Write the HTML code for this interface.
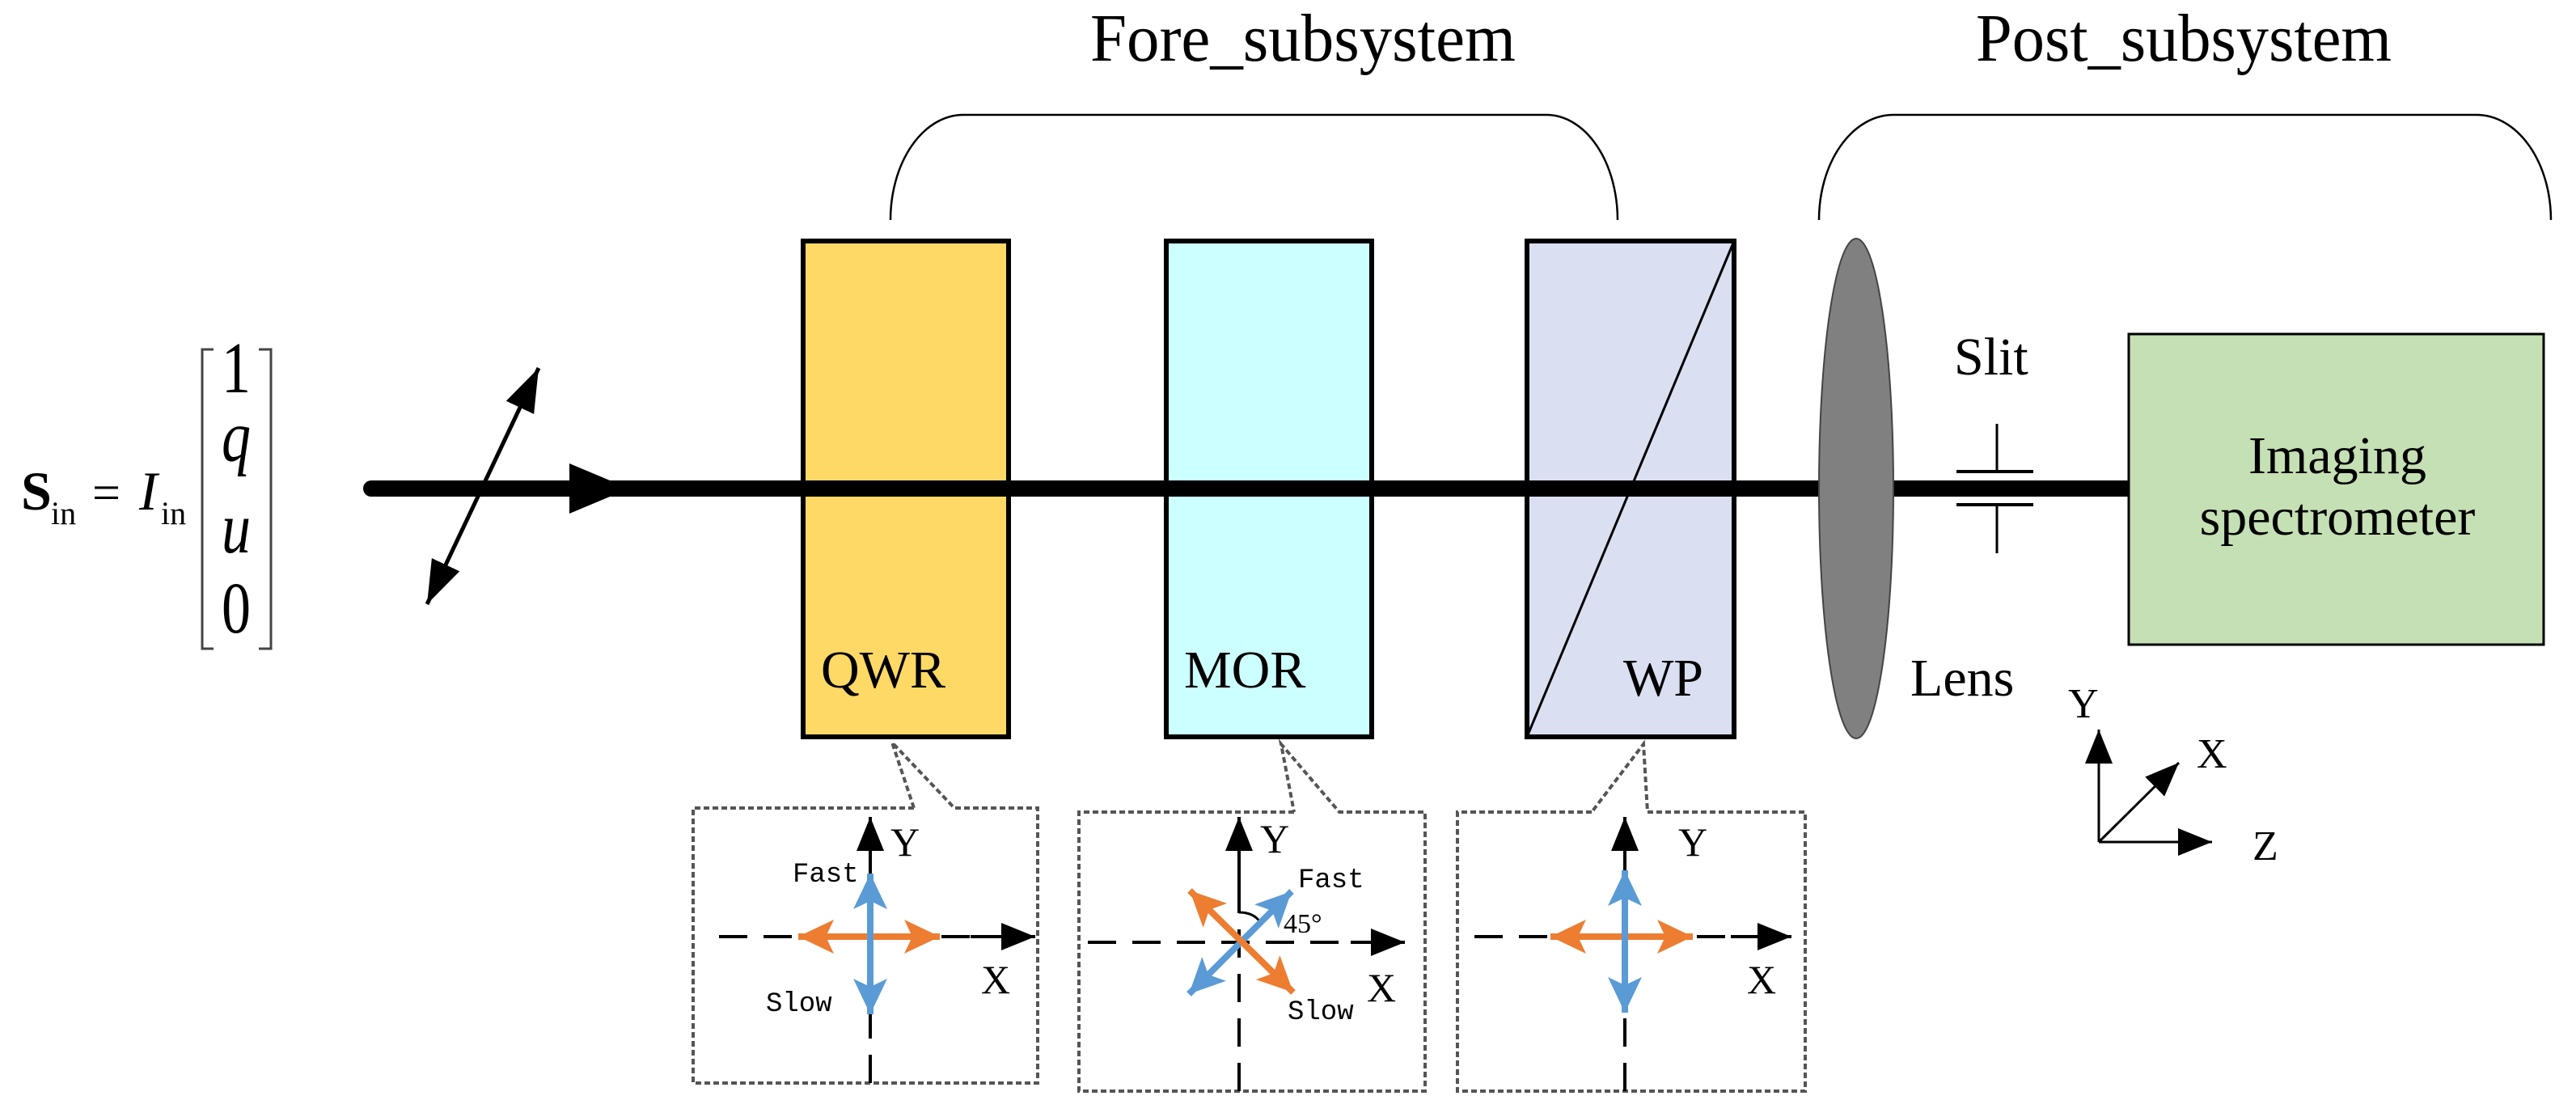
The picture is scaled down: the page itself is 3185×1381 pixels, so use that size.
<!DOCTYPE html>
<html><head><meta charset="utf-8"><style>
html,body{margin:0;padding:0;background:#fff;}
svg{display:block;font-family:"Liberation Serif","Times New Roman",serif;}
svg text{font-family:"Liberation Serif","Times New Roman",serif;fill:#000;}
svg text.mono{font-family:"Liberation Mono","DejaVu Sans Mono",monospace;}
</style></head><body>
<svg width="3185" height="1381" viewBox="0 0 3185 1381" xmlns="http://www.w3.org/2000/svg" font-family="Liberation Serif, serif">
<defs>
<marker id="bk" markerUnits="userSpaceOnUse" markerWidth="60" markerHeight="44" refX="54" refY="19" orient="auto-start-reverse"><path d="M0,0 L54,19 L0,38 Z" fill="#000"/></marker>
<marker id="bks" markerUnits="userSpaceOnUse" markerWidth="50" markerHeight="40" refX="42" refY="17" orient="auto-start-reverse"><path d="M0,0 L42,17 L0,34 Z" fill="#000"/></marker>
<marker id="or" markerUnits="userSpaceOnUse" markerWidth="50" markerHeight="46" refX="44" refY="21" orient="auto-start-reverse"><path d="M0,0 L44,21 L0,42 L10,21 Z" fill="#ed7d31"/></marker>
<marker id="bl" markerUnits="userSpaceOnUse" markerWidth="50" markerHeight="46" refX="44" refY="21" orient="auto-start-reverse"><path d="M0,0 L44,21 L0,42 L10,21 Z" fill="#5b9bd5"/></marker>
</defs>

<g font-family="Liberation Serif, serif">
<text x="1348" y="75" font-size="84" textLength="526" lengthAdjust="spacingAndGlyphs">Fore_subsystem</text>
<text x="2443" y="75" font-size="84" textLength="514" lengthAdjust="spacingAndGlyphs">Post_subsystem</text>
</g>

<path d="M1101,272 A90,130 0 0 1 1191,142 L1912,142 A88,130 0 0 1 2000,272" fill="none" stroke="#000" stroke-width="2.5"/>
<path d="M2249,272 A92,130 0 0 1 2341,142 L3062,142 A92,130 0 0 1 3154,272" fill="none" stroke="#000" stroke-width="2.5"/>

<g font-family="Liberation Serif, serif">
<text x="26" y="630" font-size="68" font-weight="bold">S</text>
<text x="63" y="648" font-size="40">in</text>
<text x="114" y="630" font-size="62">=</text>
<text x="172" y="630" font-size="68" font-style="italic">I</text>
<text x="199" y="648" font-size="40">in</text>
<text x="292" y="485" font-size="72" text-anchor="middle" transform="translate(292,485) scale(1,1.25) translate(-292,-485)">1</text>
<text x="292" y="570" font-size="72" font-style="italic" text-anchor="middle" transform="translate(292,570) scale(1,1.25) translate(-292,-570)">q</text>
<text x="292" y="683" font-size="72" font-style="italic" text-anchor="middle" transform="translate(292,683) scale(1,1.25) translate(-292,-683)">u</text>
<text x="292" y="782" font-size="72" text-anchor="middle" transform="translate(292,782) scale(1,1.25) translate(-292,-782)">0</text>
</g>
<path d="M264,432 L250,432 L250,802 L264,802" fill="none" stroke="#444" stroke-width="3"/>
<path d="M320,432 L335,432 L335,802 L320,802" fill="none" stroke="#444" stroke-width="3"/>

<rect x="993" y="298" width="254" height="613" fill="#fed966" stroke="#000" stroke-width="6"/>
<rect x="1442" y="298" width="254" height="613" fill="#ccffff" stroke="#000" stroke-width="6"/>
<rect x="1888" y="298" width="256" height="613" fill="#dae0f2" stroke="#000" stroke-width="6"/>
<line x1="1888" y1="911" x2="2144" y2="298" stroke="#000" stroke-width="3"/>

<line x1="459" y1="604" x2="2632" y2="604" stroke="#000" stroke-width="20" stroke-linecap="round"/>
<path d="M704,573 L778,604 L704,635 Z" fill="#000"/>

<line x1="528" y1="747" x2="666" y2="455" stroke="#000" stroke-width="5" marker-start="url(#bk)" marker-end="url(#bk)"/>

<ellipse cx="2295" cy="604" rx="46" ry="309" fill="#808080" stroke="#444" stroke-width="2"/>

<line x1="2469" y1="524" x2="2469" y2="583" stroke="#000" stroke-width="3"/>
<line x1="2469" y1="624" x2="2469" y2="684" stroke="#000" stroke-width="3"/>
<line x1="2419" y1="583" x2="2514" y2="583" stroke="#000" stroke-width="4"/>
<line x1="2419" y1="624" x2="2514" y2="624" stroke="#000" stroke-width="4"/>

<rect x="2632" y="413" width="513" height="384" fill="#c5e0b4" stroke="#000" stroke-width="3"/>

<g font-family="Liberation Serif, serif">
<text x="2416" y="463" font-size="66">Slit</text>
<text x="2890" y="585" font-size="66" text-anchor="middle">Imaging</text>
<text x="2890" y="661" font-size="66" text-anchor="middle">spectrometer</text>
<text x="1015" y="850" font-size="66">QWR</text>
<text x="1464" y="850" font-size="66">MOR</text>
<text x="2007" y="860" font-size="66">WP</text>
<text x="2362" y="860" font-size="66">Lens</text>
<text x="2557" y="887" font-size="52">Y</text>
<text x="2716" y="949" font-size="52">X</text>
<text x="2785" y="1063" font-size="52">Z</text>
</g>

<line x1="2595" y1="1041" x2="2595" y2="902" stroke="#000" stroke-width="3" marker-end="url(#bks)"/>
<line x1="2595" y1="1041" x2="2735" y2="1041" stroke="#000" stroke-width="3" marker-end="url(#bks)"/>
<line x1="2595" y1="1041" x2="2694" y2="943" stroke="#000" stroke-width="3" marker-end="url(#bks)"/>

<g fill="none" stroke="#555" stroke-width="4" stroke-dasharray="7 4">
<path d="M1130,999 L857,999 L857,1339 L1283,1339 L1283,999 L1180,999 L1103,918 L1130,999"/>
<path d="M1600,1004 L1334,1004 L1334,1349 L1762,1349 L1762,1004 L1656,1004 L1584,920 L1600,1004"/>
<path d="M1968,1004 L1802,1004 L1802,1349 L2232,1349 L2232,1004 L2037,1004 L2032,920 L1968,1004"/>
</g>

<!-- QWR inset -->
<g stroke="#000" stroke-width="4">
<line x1="1076" y1="1339" x2="1076" y2="1040" stroke-dasharray="35 20"/>
<line x1="1076" y1="1090" x2="1076" y2="1010" marker-end="url(#bks)"/>
<line x1="889" y1="1158" x2="1240" y2="1158" stroke-dasharray="35 20"/>
<line x1="1200" y1="1158" x2="1280" y2="1158" marker-end="url(#bks)"/>
</g>
<line x1="987" y1="1158" x2="1162" y2="1158" stroke="#ed7d31" stroke-width="8" marker-start="url(#or)" marker-end="url(#or)"/>
<line x1="1076" y1="1080" x2="1076" y2="1254" stroke="#5b9bd5" stroke-width="8" marker-start="url(#bl)" marker-end="url(#bl)"/>
<g font-family="Liberation Mono, monospace">
<text class="mono" x="980" y="1090" font-size="34">Fast</text>
<text class="mono" x="947" y="1250" font-size="34">Slow</text>
<text class="mono" x="1605" y="1097" font-size="34">Fast</text>
<text class="mono" x="1592" y="1260" font-size="34">Slow</text>
</g>
<g font-family="Liberation Serif, serif">
<text x="1101" y="1058" font-size="50">Y</text>
<text x="1213" y="1228" font-size="50">X</text>
<text x="1587" y="1153" font-size="34">45°</text>
<text x="1558" y="1054" font-size="50">Y</text>
<text x="1690" y="1238" font-size="50">X</text>
<text x="2075" y="1058" font-size="50">Y</text>
<text x="2160" y="1228" font-size="50">X</text>
</g>

<!-- MOR inset -->
<g stroke="#000" stroke-width="4">
<line x1="1532" y1="1349" x2="1532" y2="1060" stroke-dasharray="35 20"/>
<line x1="1532" y1="1095" x2="1532" y2="1010" marker-end="url(#bks)"/>
<line x1="1345" y1="1165" x2="1700" y2="1165" stroke-dasharray="35 20"/>
<line x1="1670" y1="1165" x2="1737" y2="1165" marker-end="url(#bks)"/>
<path d="M1532,1128 Q1550,1128 1558,1140" fill="none" stroke-width="3"/>
</g>
<line x1="1470" y1="1229" x2="1597" y2="1102" stroke="#5b9bd5" stroke-width="8" marker-start="url(#bl)" marker-end="url(#bl)"/>
<line x1="1471" y1="1101" x2="1599" y2="1227" stroke="#ed7d31" stroke-width="8" marker-start="url(#or)" marker-end="url(#or)"/>

<!-- WP inset -->
<g stroke="#000" stroke-width="4">
<line x1="2009" y1="1349" x2="2009" y2="1040" stroke-dasharray="35 20"/>
<line x1="2009" y1="1090" x2="2009" y2="1010" marker-end="url(#bks)"/>
<line x1="1823" y1="1158" x2="2170" y2="1158" stroke-dasharray="35 20"/>
<line x1="2140" y1="1158" x2="2215" y2="1158" marker-end="url(#bks)"/>
</g>
<line x1="1917" y1="1158" x2="2093" y2="1158" stroke="#ed7d31" stroke-width="8" marker-start="url(#or)" marker-end="url(#or)"/>
<line x1="2009" y1="1076" x2="2009" y2="1252" stroke="#5b9bd5" stroke-width="8" marker-start="url(#bl)" marker-end="url(#bl)"/>
</svg>
</body></html>
